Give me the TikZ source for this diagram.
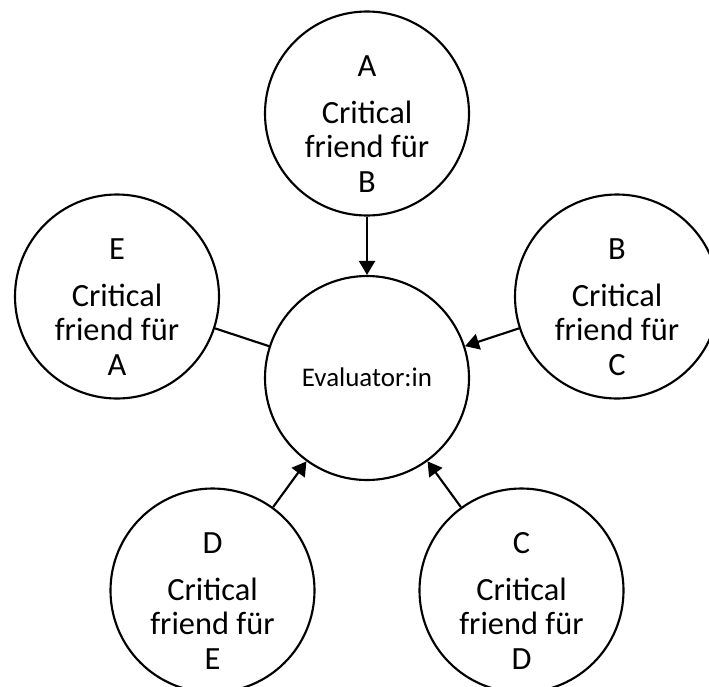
\documentclass[tikz,border=0pt]{standalone}
\usepackage{fontspec}
\setmainfont{Carlito}
\usetikzlibrary{arrows.meta,calc}
\begin{document}
\begin{tikzpicture}[x=0.75pt,y=-0.75pt,
  circ/.style={draw=black,line width=1.6pt,circle,minimum size=153pt,inner sep=0pt},
  big/.style={font=\fontsize{24.3pt}{29pt}\selectfont,anchor=base,inner sep=0pt},
  small/.style={font=\fontsize{20.2pt}{24pt}\selectfont,anchor=base,inner sep=0pt},
  conn/.style={line width=1.6pt},
  arr/.style={conn,-{Triangle[length=10.5pt,width=12pt]}}]
\useasboundingbox (0,0) rectangle (709,686);
\node[circ] (M) at (367,378) {};
\node[small] (M-t) at ($(M.center)+(0,8)$) {Evaluator:in};
\foreach \n/\x/\y/\a/\b in {A/367/113.5/A/B, B/617/296.5/B/C, E/117/296.5/E/A, D/212.5/590.5/D/E, C/521.5/590.5/C/D}{
  \node[circ] (\n) at (\x,\y) {};
  \node[big] (\n-1) at ($(\n.center)+(0,-37)$) {\a};
  \node[big] (\n-2) at ($(\n.center)+(0,10)$) {Critical};
  \node[big] (\n-3) at ($(\n.center)+(0,44)$) {friend für};
  \node[big] (\n-4) at ($(\n.center)+(0,78.5)$) {\b};
}
\draw[arr] (A.south) -- (M.north);
\draw[arr] (B.198) -- (M.18);
\draw[conn] (E.342) -- (M.162);
\draw[arr] (D.54) -- (M.234);
\draw[arr] (C.126) -- (M.306);
\end{tikzpicture}
\end{document}
